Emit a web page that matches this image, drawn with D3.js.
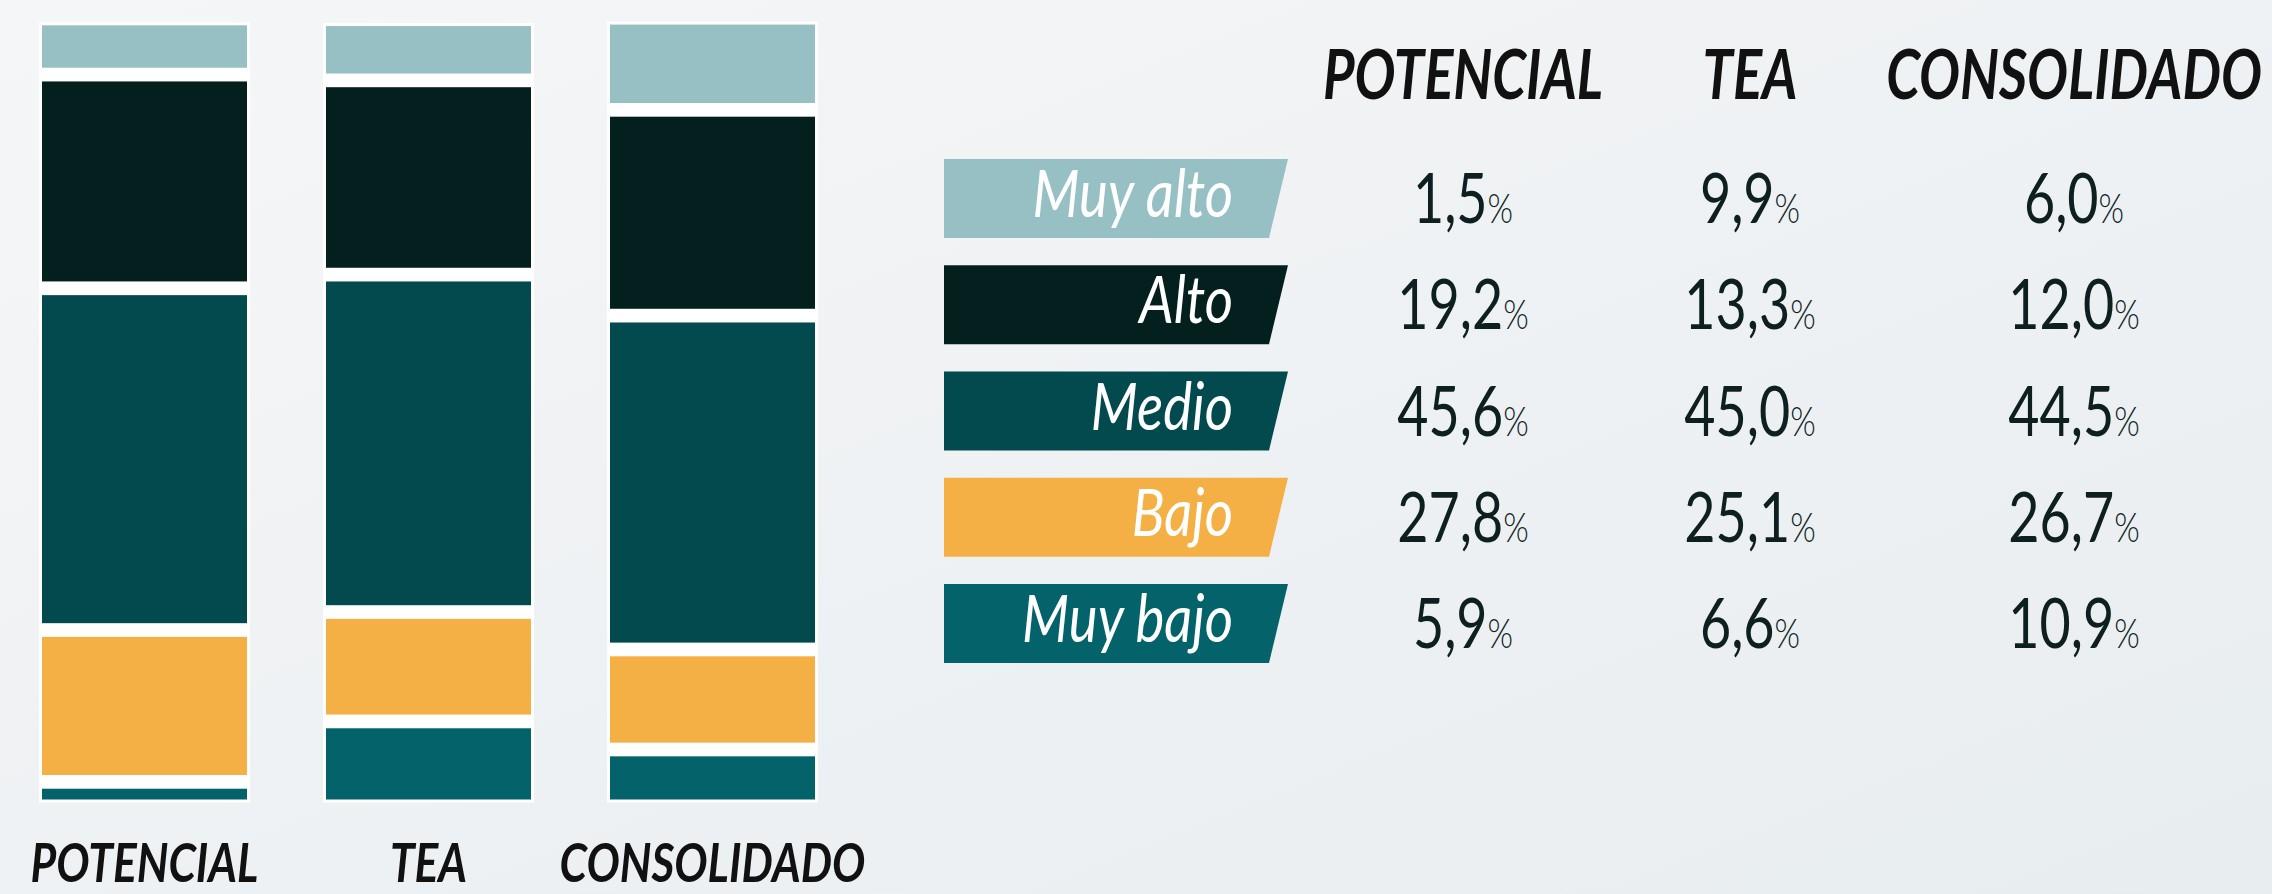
<!DOCTYPE html>
<html>
<head>
<meta charset="utf-8">
<script src="https://cdn.jsdelivr.net/npm/d3@7"></script>
<style>
  html, body { margin: 0; padding: 0; overflow: hidden; }
  body { width: 2272px; height: 894px; }
  svg { display: block; }
</style>
</head>
<body>
<svg id="chart" width="2272" height="894"></svg>
<script>
// ---------------- DATA ----------------
const categories = ["POTENCIAL", "TEA", "CONSOLIDADO"];
const levels = ["Muy alto", "Alto", "Medio", "Bajo", "Muy bajo"];
const potencialValues = [1.5, 19.2, 45.6, 27.8, 5.9];
const teaValues = [9.9, 13.3, 45.0, 25.1, 6.6];
const consolidadoValues = [6.0, 12.0, 44.5, 26.7, 10.9];
const levelColors = ["#97c0c5", "#03201f", "#034a4f", "#f4b045", "#04636a"];
const valuesByCategory = [potencialValues, teaValues, consolidadoValues];

// ---------------- SETUP ----------------
const svg = d3.select("#chart");
const W = 2272, H = 894;

const defs = svg.append("defs");
const grad = defs.append("linearGradient").attr("id", "bg")
  .attr("x1", "0").attr("y1", "0").attr("x2", "1").attr("y2", "1");
grad.append("stop").attr("offset", "0%").attr("stop-color", "#f5f6f7");
grad.append("stop").attr("offset", "55%").attr("stop-color", "#eef1f3");
grad.append("stop").attr("offset", "100%").attr("stop-color", "#e8edf0");
svg.append("rect").attr("width", W).attr("height", H).attr("fill", "url(#bg)");

// helper: horizontally condensed text
function condText(g, x, y, sx, opts) {
  return g.append("text")
    .attr("transform", `translate(${x},${y}) scale(${sx},1)`)
    .attr("text-anchor", opts.anchor || "middle")
    .attr("font-family", "Lato, 'Open Sans', sans-serif")
    .attr("font-weight", opts.weight || 400)
    .attr("font-style", opts.style || "normal")
    .attr("font-size", opts.size)
    .attr("fill", opts.fill || "#111");
}

// ---------------- STACKED BARS ----------------
const x = d3.scaleBand().domain(categories).range([42, 815]).paddingInner(79 / 284).paddingOuter(0);
const barBottom = 799.5;
const gap = 13.7;
const h = d3.scaleLinear().domain([0, 100]).range([0, 719.4]);

const barsG = svg.append("g");
categories.forEach((cat, ci) => {
  const vals = valuesByCategory[ci];
  const cum = [0, ...d3.cumsum(vals)];
  const total = cum[cum.length - 1];
  // white backing strip
  barsG.append("rect")
    .attr("x", x(cat) - 3).attr("width", x.bandwidth() + 6)
    .attr("y", barBottom - h(total) - gap * (vals.length - 1) - 3)
    .attr("height", h(total) + gap * (vals.length - 1) + 6)
    .attr("fill", "#ffffff");
  // as in the reference picture: values stack upward from the first level,
  // colours are assigned by position from the top
  const segs = vals.map((v, i) => ({
    y1: barBottom - h(cum[i]) - gap * i,
    y0: barBottom - h(cum[i + 1]) - gap * i,
    color: levelColors[vals.length - 1 - i]
  }));
  barsG.selectAll(null).data(segs).enter().append("rect")
    .attr("x", x(cat)).attr("width", x.bandwidth())
    .attr("y", d => d.y0).attr("height", d => d.y1 - d.y0)
    .attr("fill", d => d.color);

  condText(barsG, x(cat) + x.bandwidth() / 2, 882, 0.82,
    { size: 54, weight: 700, style: "italic", fill: "#111" }).text(cat);
});

// ---------------- TABLE ----------------
const colX = d3.scaleOrdinal().domain(categories).range([1463, 1750, 2074]);
const rowY = d3.scalePoint().domain(levels).range([198.5, 623.5]);
const tableG = svg.append("g");

// headers
categories.forEach(cat => {
  condText(tableG, colX(cat), 99, 0.8,
    { size: 68, weight: 700, style: "italic", fill: "#111" }).text(cat);
});

// legend boxes
const boxLeft = 944, boxRightTop = 1288, boxRightBottom = 1269, boxH = 79;
levels.forEach((lv, i) => {
  const cy = rowY(lv);
  const y0 = cy - boxH / 2, y1 = cy + boxH / 2;
  tableG.append("path")
    .attr("d", `M${boxLeft},${y0}L${boxRightTop},${y0}L${boxRightBottom},${y1}L${boxLeft},${y1}Z`)
    .attr("fill", levelColors[i]);
  condText(tableG, 1233, cy + 18.5, 0.84,
    { size: 65, weight: 400, style: "italic", fill: "#ffffff", anchor: "end" }).text(lv);
});

// values
const fmt = v => d3.format(".1f")(v).replace(".", ",");
categories.forEach((cat, ci) => {
  valuesByCategory[ci].forEach((v, i) => {
    const t = condText(tableG, colX(cat), rowY(levels[i]) + 24.5, 0.78,
      { size: 69, weight: 400, fill: "#0d1f1f" });
    t.append("tspan").text(fmt(v));
    t.append("tspan").attr("font-size", 42).attr("font-weight", 300).text("%");
  });
});
</script>
</body>
</html>
